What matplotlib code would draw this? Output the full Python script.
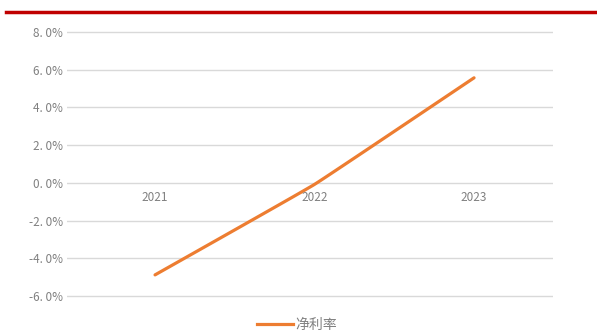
import numpy as np
import matplotlib.pyplot as plt
from matplotlib.lines import Line2D

plt.rcParams['font.family'] = ['Noto Sans CJK SC', 'DejaVu Sans']

years = ["2021", "2022", "2023"]
net_margin = [-4.88, -0.08, 5.57]
y_ticks = [-6, -4, -2, 0, 2, 4, 6, 8]

ORANGE = "#ED7D31"
GRAY = "#808080"


def smooth(xs, ys, tension=0.12, steps=30):
    """Cardinal spline through the points, a gently smoothed line."""
    px = np.concatenate([[2 * xs[0] - xs[1]], xs, [2 * xs[-1] - xs[-2]]])
    py = np.concatenate([[2 * ys[0] - ys[1]], ys, [2 * ys[-1] - ys[-2]]])
    t = np.linspace(0, 1, steps)
    h00 = 2 * t ** 3 - 3 * t ** 2 + 1
    h10 = t ** 3 - 2 * t ** 2 + t
    h01 = -2 * t ** 3 + 3 * t ** 2
    h11 = t ** 3 - t ** 2
    out_x, out_y = [], []
    for i in range(1, len(px) - 2):
        for p, out in ((px, out_x), (py, out_y)):
            m1 = tension * (p[i + 1] - p[i - 1])
            m2 = tension * (p[i + 2] - p[i])
            out.extend(h00 * p[i] + h10 * m1 + h01 * p[i + 1] + h11 * m2)
    return out_x, out_y


fig = plt.figure(figsize=(5.97, 3.32), dpi=100)
# axes spans -6.2 .. 8.2 so the outer gridlines are not clipped
pad = 0.2 * (296 - 32) / 14
top, bottom = 32 - pad, 296 + pad
ax = fig.add_axes([67 / 597, 1 - bottom / 332, (553 - 67) / 597, (bottom - top) / 332])

x = np.arange(len(years))
sx, sy = smooth(x.astype(float), np.array(net_margin))
ax.plot(sx, sy, color=ORANGE, lw=2.3, solid_capstyle="round", zorder=3)

ax.set_ylim(-6.2, 8.2)
ax.set_xlim(-0.552, 2.495)
ax.set_yticks(y_ticks)
ax.set_yticklabels([f"{v:.1f}%".replace(".", ". ") for v in y_ticks],
                   color=GRAY, fontsize=8.5)
ax.yaxis.grid(True, color="#D9D9D9", lw=1)
ax.set_axisbelow(True)
ax.tick_params(axis="y", length=0, pad=3)
ax.set_xticks([])
for s in ax.spines.values():
    s.set_visible(False)

# category labels sit just under the zero line
for xi, yr in zip(x, years):
    ax.text(xi, -0.45, yr, ha="center", va="top", color=GRAY, fontsize=8.5)

# red rule across the top
fig.add_artist(Line2D([6 / 597, 1], [1 - 12 / 332] * 2, color="#C00000", lw=2.5))

handle = Line2D([], [], color=ORANGE, lw=2.3)
fig.legend([handle], ["净利率"], loc="center", bbox_to_anchor=(297 / 597, 1 - 325 / 332),
           frameon=False, fontsize=10, handlelength=2.6, handletextpad=0.2,
           labelcolor=GRAY)

fig.savefig("out.png", dpi=100)
